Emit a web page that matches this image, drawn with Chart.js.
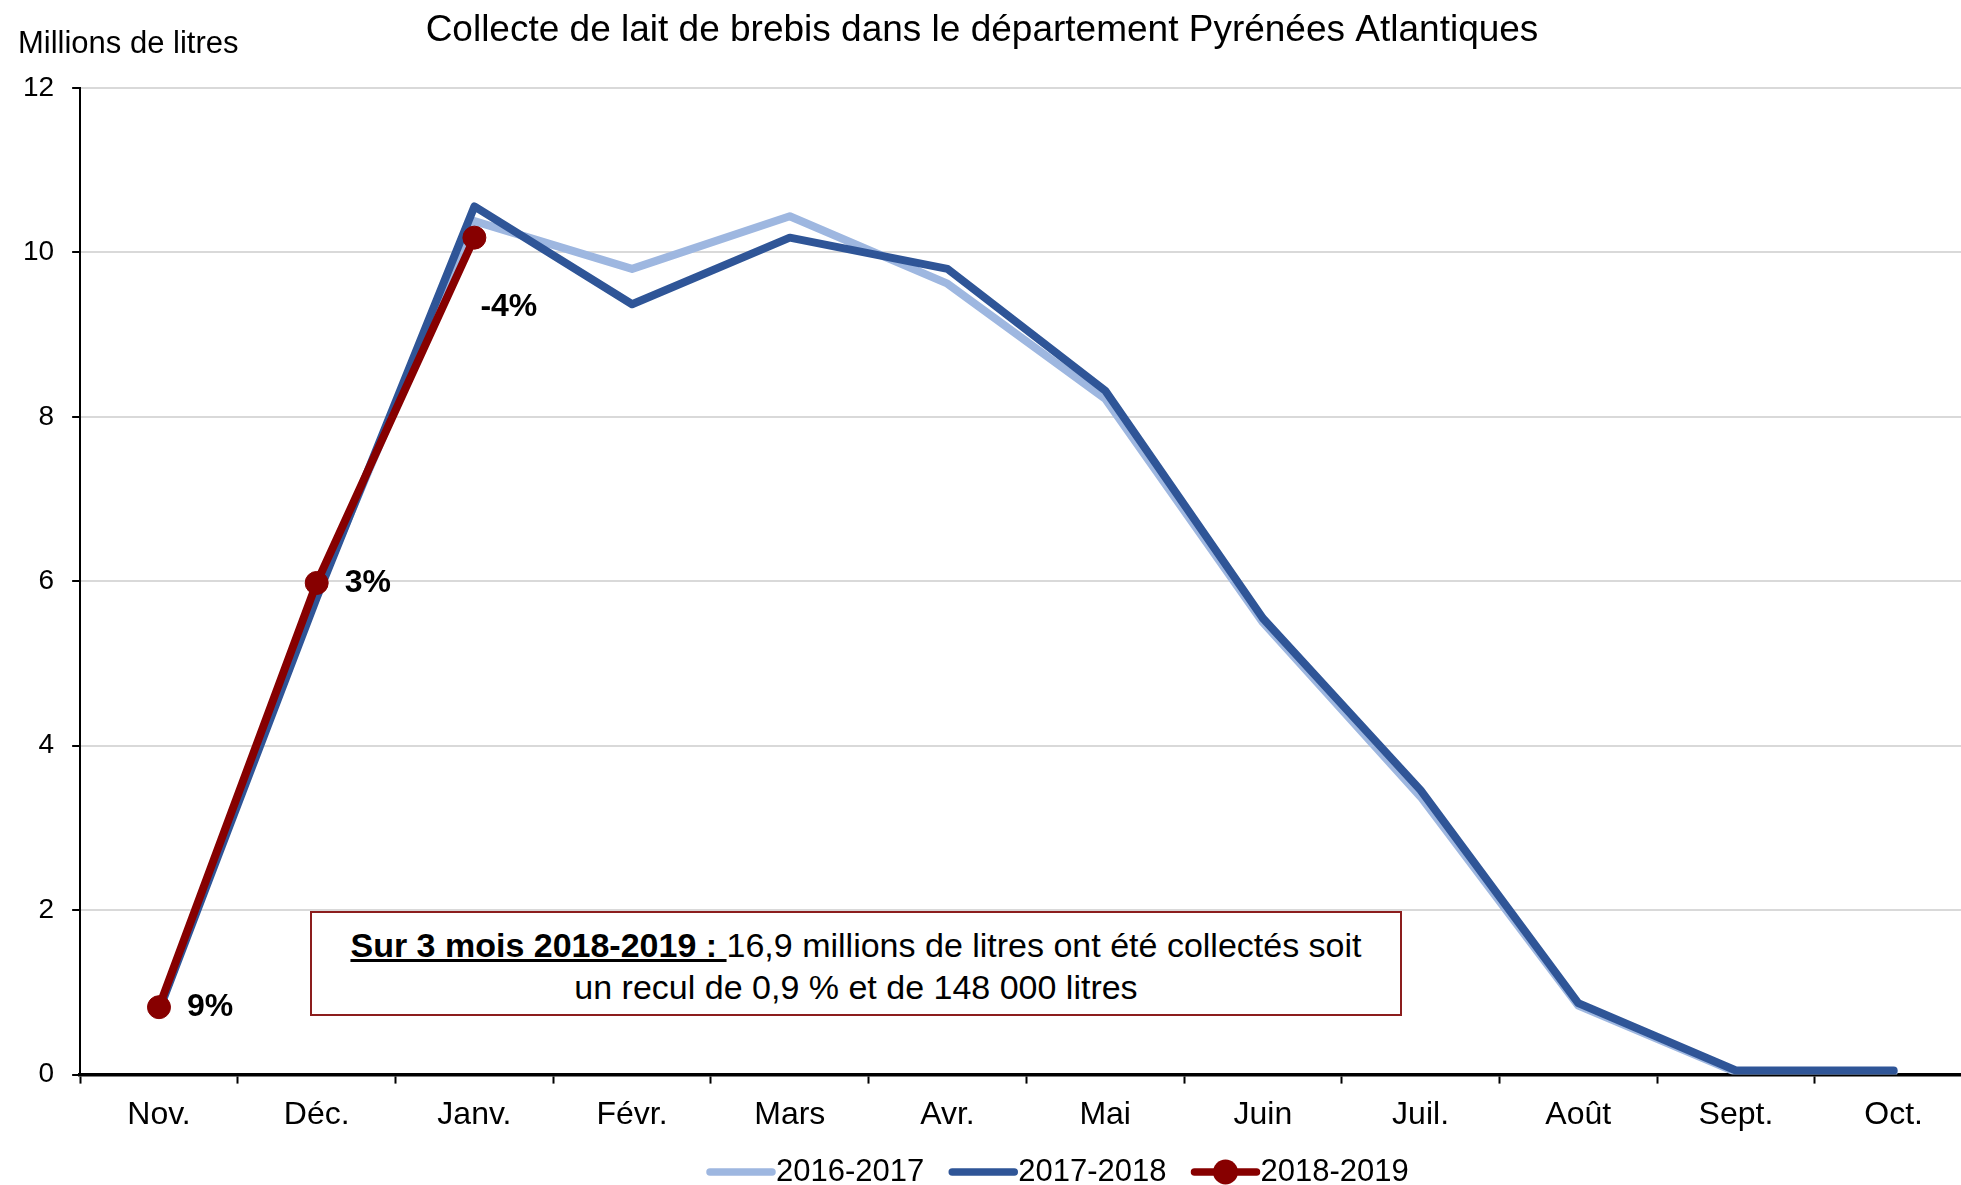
<!DOCTYPE html>
<html><head><meta charset="utf-8">
<script src="https://cdn.jsdelivr.net/npm/chart.js@4.4.1/dist/chart.umd.min.js"></script>
<style>
html,body{margin:0;padding:0;background:#fff;overflow:hidden;width:1961px;height:1185px;}
#wrap{position:relative;width:1985px;height:1185px;}
#c{display:block;}
#note{position:absolute;left:310px;top:911px;width:1092px;height:105px;box-sizing:border-box;border:2px solid #8C1D1D;background:#fff;text-align:center;font-family:"Liberation Sans",Arial,sans-serif;font-size:34px;line-height:42px;color:#000;padding-top:11px;white-space:nowrap;}
#note b{text-decoration:underline;}
</style></head><body>
<div id="wrap"><canvas id="c" width="1985" height="1185"></canvas>
<div id="note"><b>Sur 3 mois 2018-2019 : </b>16,9 millions de litres ont été collectés soit<br>un recul de 0,9 % et de 148 000 litres</div>
</div>
<script>
// ---- data ----
const categories = ['Nov.','Déc.','Janv.','Févr.','Mars','Avr.','Mai','Juin','Juil.','Août','Sept.','Oct.'];
const seriesNames = ['2016-2017','2017-2018','2018-2019'];
const s2016_2017 = [0.80, 5.85, 10.38, 9.80, 10.44, 9.62, 8.22, 5.50, 3.38, 0.84, 0.03, 0.03];
const s2017_2018 = [0.78, 5.80, 10.56, 9.37, 10.18, 9.80, 8.32, 5.55, 3.46, 0.87, 0.05, 0.05];
const s2018_2019 = [0.82, 5.98, 10.18];
const changeLabels = ['9%', '3%', '-4%'];
const yTicks = [0, 2, 4, 6, 8, 10, 12];
const titleText = 'Collecte de lait de brebis dans le département Pyrénées Atlantiques';
const unitText = 'Millions de litres';

const FONT = '"Liberation Sans", Arial, Helvetica, sans-serif';
Chart.defaults.font.family = FONT;
Chart.defaults.color = '#000';

const colors = ['#9EB7E0', '#2F5597', '#870000'];

const extras = {
  id: 'extras',
  afterDatasetsDraw(chart) {
    const ctx = chart.ctx;
    const meta = chart.getDatasetMeta(2);
    const offs = [[28, 0], [28, 0], [6, 70]];
    ctx.save();
    ctx.font = 'bold 32px ' + FONT;
    ctx.fillStyle = '#000';
    ctx.textBaseline = 'middle';
    ctx.textAlign = 'left';
    meta.data.forEach((pt, i) => {
      if (changeLabels[i]) ctx.fillText(changeLabels[i], pt.x + offs[i][0], pt.y + offs[i][1]);
    });
    ctx.restore();
  },
  afterDraw(chart) {
    const ctx = chart.ctx;
    ctx.save();
    // title
    ctx.fillStyle = '#000';
    ctx.textBaseline = 'alphabetic';
    ctx.textAlign = 'center';
    ctx.font = '37px ' + FONT;
    ctx.fillText(titleText, 982, 41);
    ctx.textAlign = 'left';
    ctx.font = '31px ' + FONT;
    ctx.fillText(unitText, 18, 53);
    // legend
    let x = 706;
    const yc = 1172;
    ctx.font = '31px ' + FONT;
    ctx.textBaseline = 'middle';
    seriesNames.forEach((name, i) => {
      ctx.strokeStyle = colors[i];
      ctx.lineWidth = 7.5;
      ctx.lineCap = 'round';
      ctx.beginPath();
      ctx.moveTo(x + 4, yc);
      ctx.lineTo(x + 66, yc);
      ctx.stroke();
      if (i === 2) {
        ctx.fillStyle = colors[i];
        ctx.beginPath();
        ctx.arc(x + 35, yc, 12.5, 0, Math.PI * 2);
        ctx.fill();
      }
      ctx.fillStyle = '#000';
      ctx.fillText(name, x + 70, yc);
      x += 70 + ctx.measureText(name).width + 24;
    });
    ctx.restore();
  }
};

new Chart(document.getElementById('c'), {
  type: 'line',
  data: {
    labels: categories,
    datasets: [
      { label: seriesNames[0], data: s2016_2017, borderColor: colors[0], backgroundColor: colors[0], borderWidth: 8, pointRadius: 0, order: 3 },
      { label: seriesNames[1], data: s2017_2018, borderColor: colors[1], backgroundColor: colors[1], borderWidth: 8, pointRadius: 0, order: 2 },
      { label: seriesNames[2], data: s2018_2019, borderColor: colors[2], backgroundColor: colors[2], borderWidth: 8, pointRadius: 11.5, pointBorderWidth: 1, pointBackgroundColor: colors[2], pointBorderColor: colors[2], order: 1 }
    ]
  },
  options: {
    responsive: false,
    animation: false,
    events: [],
    layout: { padding: { left: 5, right: 3, top: 88, bottom: 39 } },
    elements: { line: { tension: 0, borderJoinStyle: 'round', borderCapStyle: 'round' } },
    plugins: { legend: { display: false }, title: { display: false }, tooltip: { enabled: false } },
    scales: {
      x: {
        offset: true,
        grid: { display: true, drawOnChartArea: false, drawTicks: true, tickLength: 9, tickColor: '#000', tickWidth: 2, offset: true },
        border: { display: true, color: '#000', width: 3.5 },
        ticks: { font: { size: 32 }, color: '#000', padding: 12, maxRotation: 0, autoSkip: false }
      },
      y: {
        min: 0, max: 12,
        afterBuildTicks(scale) { scale.ticks = yTicks.map(v => ({ value: v })); },
        grid: { color: '#D9D9D9', lineWidth: 2, tickLength: 8, tickColor: '#000', tickWidth: 2 },
        border: { display: true, color: '#000', width: 2 },
        ticks: { font: { size: 28 }, color: '#000', padding: 18 }
      }
    }
  },
  plugins: [extras]
});
</script>
</body></html>
